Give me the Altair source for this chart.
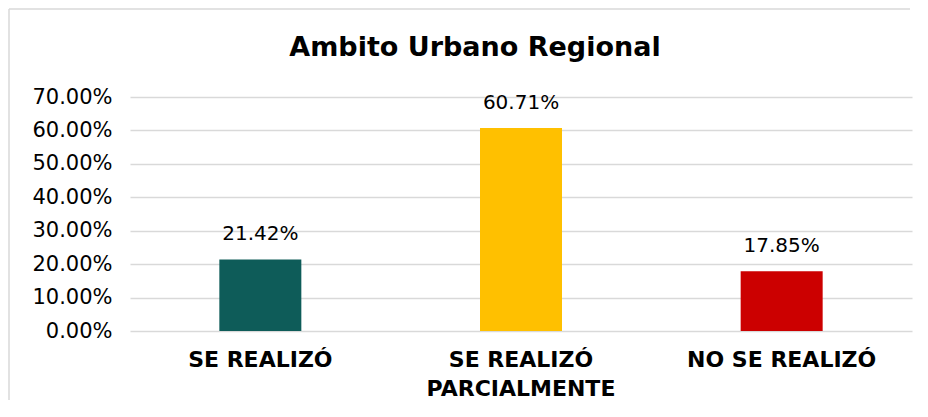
import altair as alt
import pandas as pd

title_text = "Ambito Urbano Regional"
categories = ["SE REALIZÓ", "SE REALIZÓ\nPARCIALMENTE", "NO SE REALIZÓ"]
values = [21.42, 60.71, 17.85]
colors = ["#0E5C59", "#FFC000", "#CC0000"]
y_ticks = [0, 10, 20, 30, 40, 50, 60, 70]

df = pd.DataFrame({"cat": categories, "val": values, "color": colors,
                   "lbl": [f"{v:.2f}%" for v in values]})

FONT = "DejaVu Sans"

x = alt.X("cat:N", sort=categories, title=None,
          scale=alt.Scale(paddingInner=0.0, paddingOuter=0.0),
          axis=alt.Axis(labelAngle=0, labelFont=FONT, labelFontSize=22,
                        labelFontWeight="bold", labelColor="#000000",
                        labelPadding=18, labelLineHeight=29, labelLimit=0,
                        ticks=False, domain=False,
                        labelExpr="split(datum.label, '\\n')"))
y = alt.Y("val:Q", title=None,
          scale=alt.Scale(domain=[0, 70], nice=False),
          axis=alt.Axis(values=y_ticks, labelExpr="format(datum.value, '.2f') + '%'",
                        labelFont=FONT, labelFontSize=21, labelColor="#000000",
                        labelPadding=18, ticks=False, domain=False,
                        gridColor="#D9D9D9", gridWidth=1.5))

base = alt.Chart(df)
bars = base.mark_bar(size=82).encode(x=x, y=y, color=alt.Color("color:N", scale=None))
texts = base.mark_text(dy=-15, baseline="bottom", font=FONT, fontSize=20,
                       color="#000000").encode(x=x, y=y, text="lbl:N")

one = pd.DataFrame({"t": [title_text]})
frame_left = alt.Chart(one).mark_rule(color="#D9D9D9", strokeWidth=1.5).encode(
    x=alt.value(-121), x2=alt.value(-121), y=alt.value(-88), y2=alt.value(303))
frame_top = alt.Chart(one).mark_rule(color="#D9D9D9", strokeWidth=1.5).encode(
    x=alt.value(-121), x2=alt.value(780), y=alt.value(-88), y2=alt.value(-88))
title = alt.Chart(one).mark_text(font=FONT, fontSize=27, fontWeight="bold",
                                 color="#000000", baseline="alphabetic",
                                 align="center").encode(
    x=alt.value(345), y=alt.value(-41), text="t:N")

chart = alt.layer(frame_left, frame_top, title, bars, texts).properties(
    width=782, height=234,
    autosize=alt.AutoSizeParams(type="none"),
    padding={"left": 122, "top": 89, "right": 4, "bottom": 70},
).configure_view(stroke=None)

chart.save("out.html", embed_options={"renderer": "svg", "actions": False})
